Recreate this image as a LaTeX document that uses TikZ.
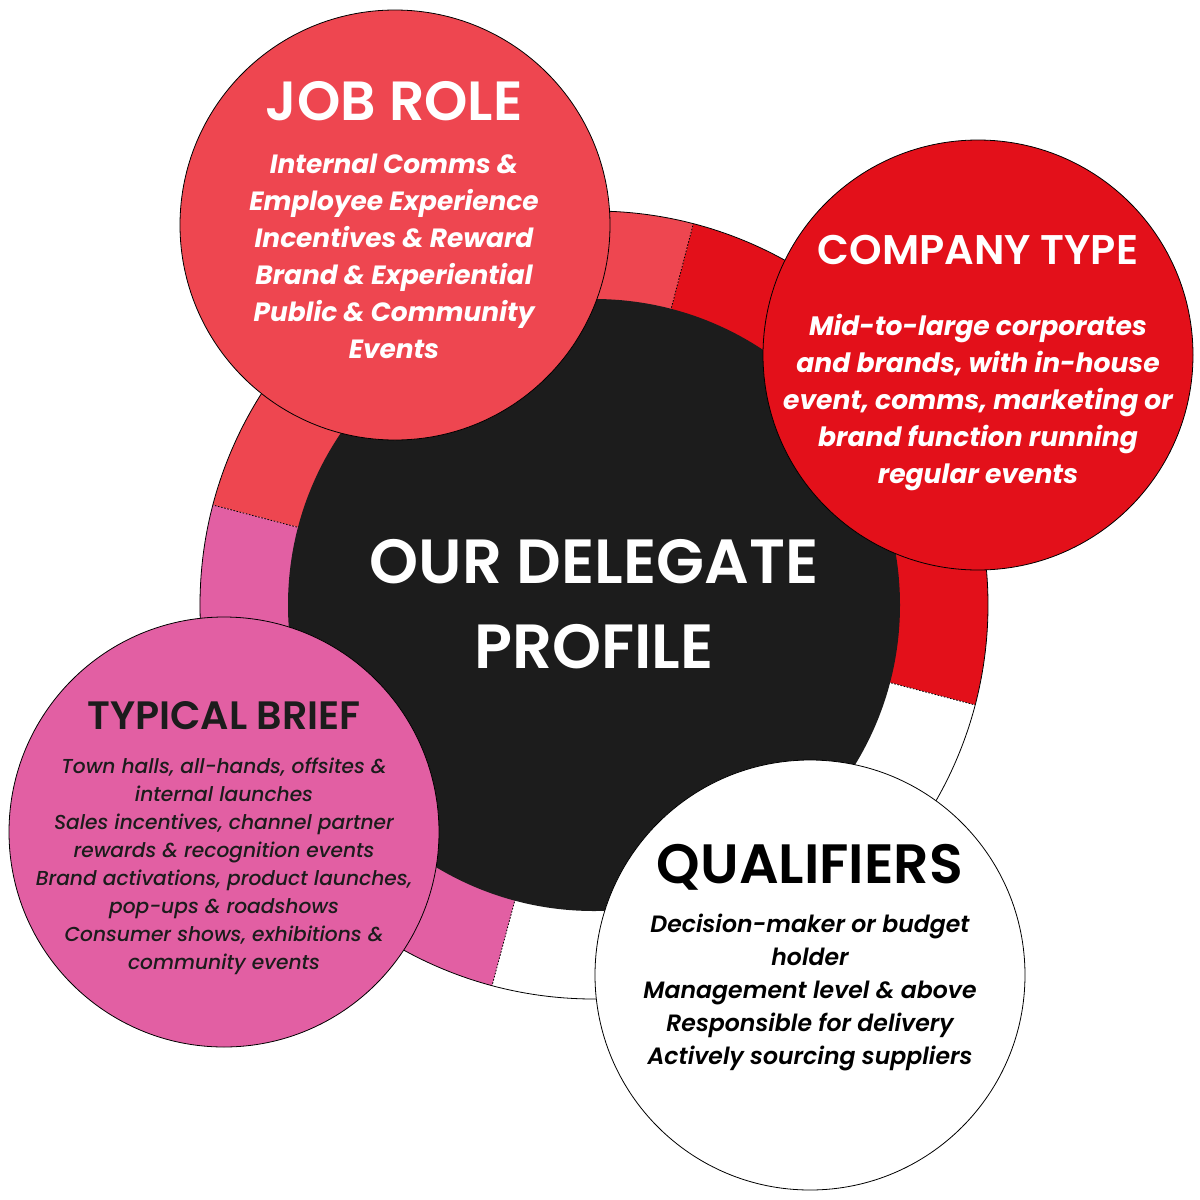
\documentclass[tikz,border=0pt]{standalone}
\usepackage{fontspec}
\setmainfont{Poppins}
\newfontfamily\popsemi{Poppins SemiBold}
\newfontfamily\popmedit{Poppins Medium Italic}
\newfontfamily\popsemiit{Poppins SemiBold Italic}
\definecolor{jobred}{HTML}{EE4650}
\definecolor{firmred}{HTML}{E3101A}
\definecolor{briefpink}{HTML}{E25FA3}
\definecolor{inkblack}{HTML}{1C1C1C}

\tikzset{
  bubble/.style={circle,draw=black,line width=.4pt,minimum size=215pt,inner sep=0pt},
  divider/.style={black,line width=.4pt,dash pattern=on .8pt off .8pt},
  headtext/.style={anchor=base,inner sep=0pt},
  bodytext/.style={anchor=north,align=center,inner sep=0pt}
}

\begin{document}
\begin{tikzpicture}[x=.5pt,y=-.5pt]
\useasboundingbox (0,0) rectangle (1200,1200);
\coordinate (hubc) at (594,605);
% outer ring, four quarters
\fill[jobred] (hubc) -- ++(-75.4:394) arc[start angle=-75.4,end angle=-165.3,radius=394] -- cycle;
\fill[firmred] (hubc) -- ++(14.7:394) arc[start angle=14.7,end angle=-75.4,radius=394] -- cycle;
\fill[white] (hubc) -- ++(105:394) arc[start angle=105,end angle=14.7,radius=394] -- cycle;
\fill[briefpink] (hubc) -- ++(194.7:394) arc[start angle=194.7,end angle=105,radius=394] -- cycle;
\draw[line width=.4pt] (hubc) circle (394);
\draw[divider] (hubc) -- ++(-75.4:394);
\draw[divider] (hubc) -- ++(14.7:394);
\draw[divider] (hubc) -- ++(105:394);
\draw[divider] (hubc) -- ++(194.7:394);
% centre
\node[circle,fill=inkblack,minimum size=306pt,inner sep=0pt] (hub) at (hubc) {};
\node[headtext,text=white,font={\popsemi\fontsize{31.2}{36}\selectfont}] (hubtop) at (594,583) {OUR DELEGATE};
\node[headtext,text=white,font={\popsemi\fontsize{31.2}{36}\selectfont}] (hubbot) at (594,668) {PROFILE};
% job role
\node[bubble,fill=jobred] (job) at (395,225) {};
\node[headtext,text=white,font={\popsemi\fontsize{27.6}{30}\selectfont}] (jobhead) at (394,120) {JOB ROLE};
\node[bodytext,text=white,font={\bfseries\itshape\fontsize{13.2}{18.5}\selectfont}] (jobbody) at (394,154)
  {Internal Comms \&\\Employee Experience\\Incentives \& Reward\\Brand \& Experiential\\Public \& Community\\Events};
% company type
\node[bubble,fill=firmred] (firm) at (978,355) {};
\node[headtext,text=white,font={\popsemi\fontsize{20.7}{24}\selectfont}] (firmhead) at (978,264) {COMPANY TYPE};
\node[bodytext,text=white,font={\bfseries\itshape\fontsize{13.3}{18.5}\selectfont}] (firmbody) at (978,314)
  {Mid-to-large corporates\\and brands, with in-house\\event, comms, marketing or\\brand function running\\regular events};
% typical brief
\node[bubble,fill=briefpink] (brief) at (224,832) {};
\node[headtext,text=inkblack,font={\popsemi\fontsize{19.8}{22}\selectfont}] (briefhead) at (224,729) {TYPICAL BRIEF};
\node[bodytext,text=inkblack,font={\popmedit\fontsize{10.1}{14}\selectfont}] (briefbody) at (224,757)
  {Town halls, all-hands, offsites \&\\internal launches\\Sales incentives, channel partner\\rewards \& recognition events\\Brand activations, product launches,\\pop-ups \& roadshows\\Consumer shows, exhibitions \&\\community events};
% qualifiers
\node[bubble,fill=white] (qual) at (810,975) {};
\node[headtext,text=black,font={\popsemi\fontsize{27.7}{30}\selectfont}] (qualhead) at (810,883) {QUALIFIERS};
\node[bodytext,text=black,font={\popsemiit\fontsize{11.8}{16.5}\selectfont}] (qualbody) at (810,914)
  {Decision-maker or budget\\holder\\Management level \& above\\Responsible for delivery\\Actively sourcing suppliers};
\end{tikzpicture}
\end{document}
